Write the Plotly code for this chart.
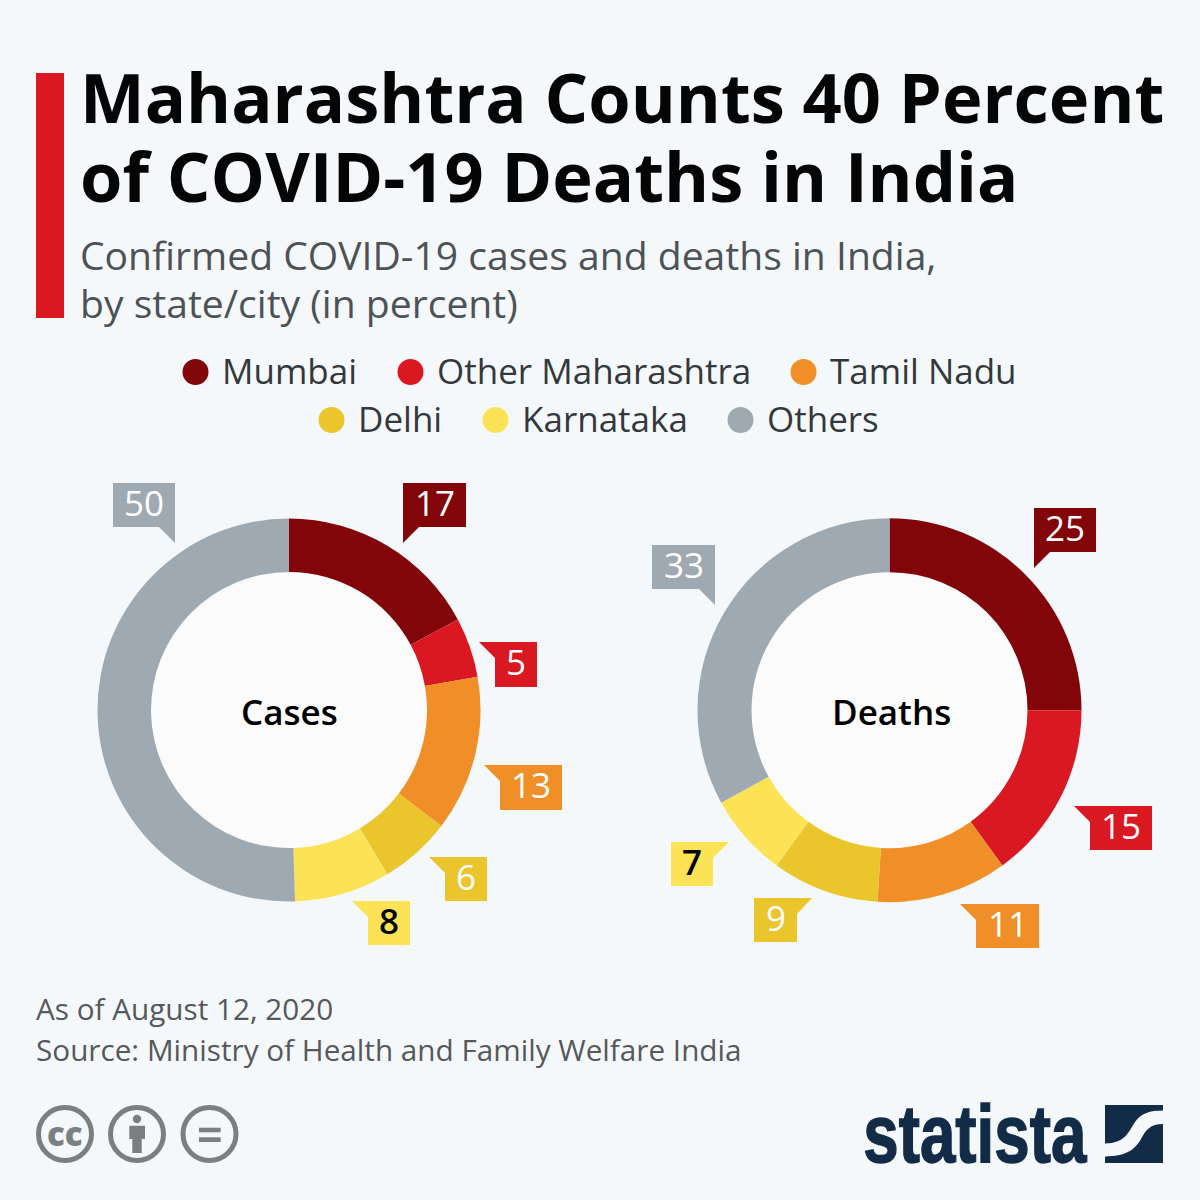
import plotly.graph_objects as go

categories = ["Mumbai", "Other Maharashtra", "Tamil Nadu", "Delhi", "Karnataka", "Others"]
cases_values = [17, 5, 13, 6, 8, 50]
deaths_values = [25, 15, 11, 9, 7, 33]
slice_colors = ["#820609", "#d91822", "#f08f27", "#ebc52c", "#fbe355", "#9fa9b2"]
label_colors = ["#ffffff", "#ffffff", "#ffffff", "#ffffff", "#050505", "#ffffff"]
label_weights = [500, 500, 500, 500, 600, 500]

title_lines = ["Maharashtra Counts 40 Percent", "of COVID-19 Deaths in India"]
subtitle_lines = ["Confirmed COVID-19 cases and deaths in India,", "by state/city (in percent)"]
footer_lines = ["As of August 12, 2020", "Source: Ministry of Health and Family Welfare India"]

BG = "#f5f8fb"
FONT = "Open Sans"
SIZE = 1200


def px(x):
    return x / SIZE


def py(y):
    return 1 - y / SIZE


def text(x, y, s, size, color="#000000", weight=400, anchor="left", family=FONT):
    return dict(x=px(x), y=py(y), xref="paper", yref="paper", text=s, showarrow=False,
                xanchor=anchor, yanchor="middle", borderpad=0,
                font=dict(family=family, size=size, color=color, weight=weight))


def poly(points, color):
    path = "M " + " L ".join(f"{px(x)} {py(y)}" for x, y in points) + " Z"
    return dict(type="path", xref="paper", yref="paper", path=path, fillcolor=color,
                line_width=0, layer="above")


def circle(cx, cy, r, fill, line=None, width=0, layer="above"):
    return dict(type="circle", xref="paper", yref="paper", x0=px(cx - r), x1=px(cx + r),
                y0=py(cy + r), y1=py(cy - r), fillcolor=fill, layer=layer,
                line=dict(color=line, width=width) if line else dict(width=0))


def rect(x0, y0, x1, y1, color):
    return poly([(x0, y0), (x1, y0), (x1, y1), (x0, y1)], color)


def donut(values, cx, cy, r, name):
    return go.Pie(values=values, labels=categories, name=name, sort=False, direction="clockwise",
                  rotation=0, hole=138 / r, textinfo="none", showlegend=False,
                  marker=dict(colors=slice_colors, line=dict(width=0)),
                  domain=dict(x=[px(cx - r), px(cx + r)], y=[py(cy + r), py(cy - r)]))


fig = go.Figure()
fig.add_trace(donut(cases_values, 289, 710, 191.5, "Cases"))
fig.add_trace(donut(deaths_values, 889.5, 710.2, 192, "Deaths"))

shapes = [rect(36, 73, 64, 318, "#d91822")]
annotations = []

# header
annotations.append(text(79, 97, title_lines[0], 68.6, "#050505", 700))
annotations.append(text(79, 175, title_lines[1], 68.6, "#050505", 700))
annotations.append(text(78.5, 254, subtitle_lines[0], 39.1, "#4d5256"))
annotations.append(text(78.5, 303, subtitle_lines[1], 39.1, "#4d5256"))

# legend, two centred rows
legend_spots = [(195.5, 372), (410.5, 372), (803.5, 372), (331.5, 420), (495.5, 420), (740.5, 420)]
for cat, col, (lx, ly) in zip(categories, slice_colors, legend_spots):
    shapes.append(circle(lx, ly, 13, col))
    annotations.append(text(lx + 25.5, ly - 1, cat, 35, "#33383c"))

# centre discs and names
shapes.append(circle(289, 710, 138, "#fbfbfb", layer="below"))
shapes.append(circle(889.5, 710.2, 138, "#fbfbfb", layer="below"))
annotations.append(text(289.5, 711, "Cases", 35, "#000000", 600, "center"))
annotations.append(text(891, 711, "Deaths", 35, "#000000", 600, "center"))

# callouts: box left, top, right, bottom, then the point of the tip
cases_boxes = [(403, 483, 466, 527, 403, 543), (495, 642, 537, 687, 479, 642),
               (500, 765, 562, 810, 484, 765), (445, 857, 487, 901, 429, 857),
               (368, 901, 410, 945, 352, 901), (113, 483, 175, 527, 175, 543)]
deaths_boxes = [(1034, 508, 1096, 552, 1034, 568), (1090, 806, 1152, 850, 1074, 806),
                (976, 904, 1039, 948, 960, 904), (754, 898, 797, 942, 812, 898),
                (671, 842, 713, 886, 729, 842), (652, 545, 715, 589, 715, 605)]


def callout(box, value, color, label_color, weight):
    x0, y0, x1, y1, tx, ty = box
    if ty > y1 and tx == x0:  # tip hangs below the left corner
        pts = [(x0, y0), (x1, y0), (x1, y1), (x0 + 16, y1), (tx, ty)]
    elif ty > y1:  # tip hangs below the right corner
        pts = [(x0, y0), (x1, y0), (tx, ty), (x1 - 16, y1), (x0, y1)]
    elif tx < x0:  # tip to the left at the top edge
        pts = [(tx, ty), (x1, y0), (x1, y1), (x0, y1), (x0, y0 + 16)]
    else:  # tip to the right at the top edge
        pts = [(x0, y0), (tx, ty), (x1, y0 + 16), (x1, y1), (x0, y1)]
    shapes.append(poly(pts, color))
    annotations.append(text((x0 + x1) / 2, (y0 + y1) / 2 - 3, str(value), 35, label_color, weight, "center"))


for values, boxes in ((cases_values, cases_boxes), (deaths_values, deaths_boxes)):
    for v, col, lab, w, b in zip(values, slice_colors, label_colors, label_weights, boxes):
        callout(b, v, col, lab, w)

# footer
annotations.append(text(35, 1008, footer_lines[0], 29.7, "#55595c"))
annotations.append(text(35, 1049.5, footer_lines[1], 29.7, "#55595c"))

# licence icons
ICON = "#7b7f7f"
for cx in (65, 137, 209.5):
    shapes.append(circle(cx, 1134, 26.5, "rgba(0,0,0,0)", ICON, 5))
annotations.append(text(65, 1133, "cc", 33, ICON, 800, "center"))
shapes.append(circle(137, 1119, 4.2, ICON))
shapes.append(poly([(129.3, 1125.7), (145, 1125.7), (145, 1139), (141.7, 1139), (141.7, 1153),
                    (132.3, 1153), (132.3, 1139), (129.3, 1139)], ICON))
shapes.append(rect(199, 1127.7, 220.7, 1132.3, ICON))
shapes.append(rect(199, 1137.3, 220.7, 1142, ICON))

# statista logo
NAVY = "#122c47"
annotations.append(text(975.5, 1134, "statista", 81, NAVY, 700, "center", "Liberation Sans"))
shapes.append(rect(1105, 1105, 1163, 1163, NAVY))


def curve(parts, color):
    d = []
    for cmd, pts in parts:
        d.append(cmd + " " + " ".join(f"{px(x)} {py(y)}" for x, y in pts))
    return dict(type="path", xref="paper", yref="paper", path=" ".join(d) + " Z",
                fillcolor=color, line_width=0, layer="above")


shapes.append(curve([("M", [(1105, 1143.5)]),
                     ("C", [(1125, 1143), (1128, 1133), (1135, 1122)]),
                     ("C", [(1141, 1113), (1150, 1110.5), (1163, 1110.5)]),
                     ("L", [(1163, 1124)]),
                     ("C", [(1150, 1124), (1146, 1130), (1141, 1139)]),
                     ("C", [(1134, 1151), (1125, 1156), (1105, 1156.5)])], BG))

fig.update_layout(width=SIZE, height=SIZE, margin=dict(l=0, r=0, t=0, b=0), paper_bgcolor=BG,
                  plot_bgcolor=BG, shapes=shapes, annotations=annotations, showlegend=False)

# the logo type is condensed, no installed font is, so squeeze the real text to its width
squeeze = """
document.body.style.margin = '0';
document.querySelectorAll('.annotation-text').forEach(function (el) {
  if (el.textContent === 'statista') {
    el.setAttribute('textLength', '223');
    el.setAttribute('lengthAdjust', 'spacingAndGlyphs');
    el.style.stroke = '#122c47';
    el.style.strokeWidth = '1.5px';
  }
});
"""
fig.write_html("out.html", post_script=squeeze, config=dict(displayModeBar=False))
